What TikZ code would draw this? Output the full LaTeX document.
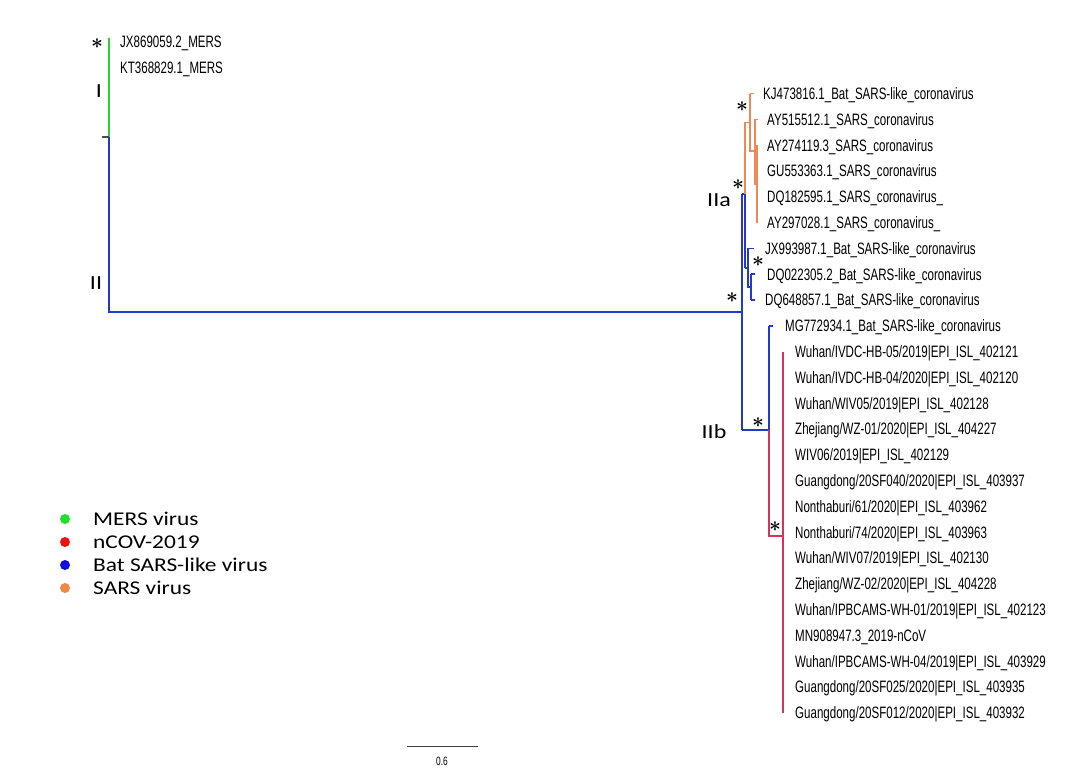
\documentclass[tikz,border=0pt]{standalone}
\usepackage{fontspec}
\newfontfamily\leaffont[FakeStretch=0.7]{Liberation Sans}
\newfontfamily\keyfont[FakeStretch=1.2]{Carlito}
\definecolor{mersline}{HTML}{33CC33}
\definecolor{sarsline}{HTML}{EE8855}
\definecolor{batline}{HTML}{2438CC}
\definecolor{covline}{HTML}{D9305E}
\definecolor{mersdot}{HTML}{22E02A}
\definecolor{covdot}{HTML}{EE1111}
\definecolor{batdot}{HTML}{1010DD}
\definecolor{sarsdot}{HTML}{EE8844}
\begin{document}
\begin{tikzpicture}[x=1pt, y=-1pt,
		leaf/.style={anchor=west, inner sep=0pt, text height=11.8pt, text depth=0pt, font=\leaffont\fontsize{16.5}{16.5}\selectfont},
		clade/.style={inner sep=0pt, font=\keyfont\fontsize{20}{20}\selectfont},
		key/.style={anchor=west, inner sep=0pt, text height=12.5pt, text depth=0pt, font=\keyfont\fontsize{19.5}{19.5}\selectfont},
		support/.style={inner sep=0pt, font=\boldmath\fontsize{21}{21}\selectfont},
		dot/.style={circle, inner sep=0pt, minimum size=10pt},
		branch/.style={line width=2.2pt},
		twig/.style={line width=1.7pt}]
		\useasboundingbox[fill=white] (0,0) rectangle (1078,776);

		% Leaves of the tree
		\node[leaf] (mers1) at (120, 42) {JX869059.2\_MERS};
		\node[leaf] (mers2) at (120, 67.8) {KT368829.1\_MERS};
		\node[leaf] (sars1) at (763, 93.6) {KJ473816.1\_Bat\_SARS-like\_coronavirus};
		\node[leaf] (sars2) at (767, 119.4) {AY515512.1\_SARS\_coronavirus};
		\node[leaf] (sars3) at (767, 145.2) {AY274119.3\_SARS\_coronavirus};
		\node[leaf] (sars4) at (767, 171) {GU553363.1\_SARS\_coronavirus};
		\node[leaf] (sars5) at (767, 196.8) {DQ182595.1\_SARS\_coronavirus\_};
		\node[leaf] (sars6) at (767, 222.6) {AY297028.1\_SARS\_coronavirus\_};
		\node[leaf] (bat1) at (765, 248.4) {JX993987.1\_Bat\_SARS-like\_coronavirus};
		\node[leaf] (bat2) at (767, 274.2) {DQ022305.2\_Bat\_SARS-like\_coronavirus};
		\node[leaf] (bat3) at (765, 300) {DQ648857.1\_Bat\_SARS-like\_coronavirus};
		\node[leaf] (bat4) at (785, 325.8) {MG772934.1\_Bat\_SARS-like\_coronavirus};
		\node[leaf] (cov1) at (795, 351.6) {Wuhan/IVDC-HB-05/2019|EPI\_ISL\_402121};
		\node[leaf] (cov2) at (795, 377.4) {Wuhan/IVDC-HB-04/2020|EPI\_ISL\_402120};
		\node[leaf] (cov3) at (795, 403.2) {Wuhan/WIV05/2019|EPI\_ISL\_402128};
		\node[leaf] (cov4) at (795, 429) {Zhejiang/WZ-01/2020|EPI\_ISL\_404227};
		\node[leaf] (cov5) at (795, 454.8) {WIV06/2019|EPI\_ISL\_402129};
		\node[leaf] (cov6) at (795, 480.6) {Guangdong/20SF040/2020|EPI\_ISL\_403937};
		\node[leaf] (cov7) at (795, 506.4) {Nonthaburi/61/2020|EPI\_ISL\_403962};
		\node[leaf] (cov8) at (795, 532.2) {Nonthaburi/74/2020|EPI\_ISL\_403963};
		\node[leaf] (cov9) at (795, 558) {Wuhan/WIV07/2019|EPI\_ISL\_402130};
		\node[leaf] (cov10) at (795, 583.8) {Zhejiang/WZ-02/2020|EPI\_ISL\_404228};
		\node[leaf] (cov11) at (795, 609.6) {Wuhan/IPBCAMS-WH-01/2019|EPI\_ISL\_402123};
		\node[leaf] (cov12) at (795, 635.4) {MN908947.3\_2019-nCoV};
		\node[leaf] (cov13) at (795, 661.2) {Wuhan/IPBCAMS-WH-04/2019|EPI\_ISL\_403929};
		\node[leaf] (cov14) at (795, 687) {Guangdong/20SF025/2020|EPI\_ISL\_403935};
		\node[leaf] (cov15) at (795, 712.8) {Guangdong/20SF012/2020|EPI\_ISL\_403932};

		% Inner nodes of the tree
		\coordinate (nI) at (109, 38);
		\coordinate (nRoot) at (109, 137);
		\coordinate (nII) at (742, 312);
		\coordinate (nIIa) at (745, 194);
		\coordinate (nIIb) at (769, 430);
		\coordinate (nS1) at (750, 122.4);
		\coordinate (nS2) at (755, 151.2);
		\coordinate (nS3) at (757, 183.9);
		\coordinate (nB1) at (748, 267.8);
		\coordinate (nB2) at (751, 287.1);
		\coordinate (nCoV) at (783, 536);

		% Draw the root and clade I
		\draw[branch, mersline] (nI) -- (nRoot);
		\draw[branch, black!70] (nRoot) -- ++(-7,0);
		\draw[branch, batline] (nRoot) |- (nII);

		% Draw clade II
		\draw[branch, batline] (nII |- nIIa) -- (nII |- nIIb);
		\draw[branch, batline] (nII |- nIIa) -- (nIIa);
		\draw[branch, batline] (nII |- nIIb) -- (nIIb);

		% Draw clade IIa
		\draw[twig, sarsline] (nIIa |- nS1) -- (nIIa);
		\draw[branch, batline] (nIIa) -- (nIIa |- nB1);
		\draw[twig, sarsline] (nIIa |- nS1) -- (nS1);
		\draw[branch, batline] (nIIa |- nB1) -- (nB1);
		\draw[twig, sarsline] (nS1 |- sars1.west) -- (nS1 |- nS2) -- (nS2);
		\draw[twig, sarsline] (nS1 |- sars1.west) -- ++(4,0);
		\draw[twig, sarsline] (nS2 |- sars2.west) -- (nS2 |- nS3) -- (nS3);
		\draw[twig, sarsline] (nS2 |- sars2.west) -- ++(3,0);
		\draw[twig, sarsline] (nS3 |- sars3.west) -- (nS3 |- sars6.west);
		\draw[twig, batline] (nB1 |- bat1.west) -- (nB1 |- nB2) -- (nB2);
		\draw[twig, batline] (nB1 |- bat1.west) -- ++(6,0);
		\draw[twig, batline] (nB2 |- bat2.west) -- (nB2 |- bat3.west);
		\draw[twig, batline] (nB2 |- bat2.west) -- ++(4,0);
		\draw[twig, batline] (nB2 |- bat3.west) -- ++(4,0);

		% Draw clade IIb
		\draw[branch, batline] (nIIb |- bat4.west) -- (nIIb);
		\draw[branch, batline] (nIIb |- bat4.west) -- ++(4,0);
		\draw[branch, covline] (nIIb) -- (nIIb |- nCoV) -- (nCoV);
		\draw[branch, covline] (nCoV |- cov1.west) -- (nCoV |- cov15.west);

		% Support marks
		\node[support] (s1) at (97, 44) {$\ast$};
		\node[support] (s2) at (742, 107) {$\ast$};
		\node[support] (s3) at (738, 185) {$\ast$};
		\node[support] (s4) at (758, 262) {$\ast$};
		\node[support] (s5) at (732, 298) {$\ast$};
		\node[support] (s6) at (758, 423) {$\ast$};
		\node[support] (s7) at (775, 527) {$\ast$};

		% Clade labels
		\node[clade] (cI) at (99, 91) {I};
		\node[clade] (cII) at (96, 283) {II};
		\node[clade] (cIIa) at (719, 200) {IIa};
		\node[clade] (cIIb) at (714, 432) {IIb};

		% Legend
		\node[dot, fill=mersdot] (d1) at (65, 519) {};
		\node[dot, fill=covdot] (d2) at (65, 542) {};
		\node[dot, fill=batdot] (d3) at (65, 565) {};
		\node[dot, fill=sarsdot] (d4) at (65, 588) {};
		\node[key] (k1) at (93, 519) {MERS virus};
		\node[key] (k2) at (93, 542) {nCOV-2019};
		\node[key] (k3) at (93, 565) {Bat SARS-like virus};
		\node[key] (k4) at (93, 588) {SARS virus};

		% Scale bar
		\coordinate (bar1) at (407, 746);
		\coordinate (bar2) at (478, 746);
		\draw[line width=1pt, black!75] (bar1) -- (bar2);
		\node[inner sep=0pt, font=\leaffont\fontsize{12}{12}\selectfont] (barlabel) at (442, 761) {0.6};

	\end{tikzpicture}
\end{document}
